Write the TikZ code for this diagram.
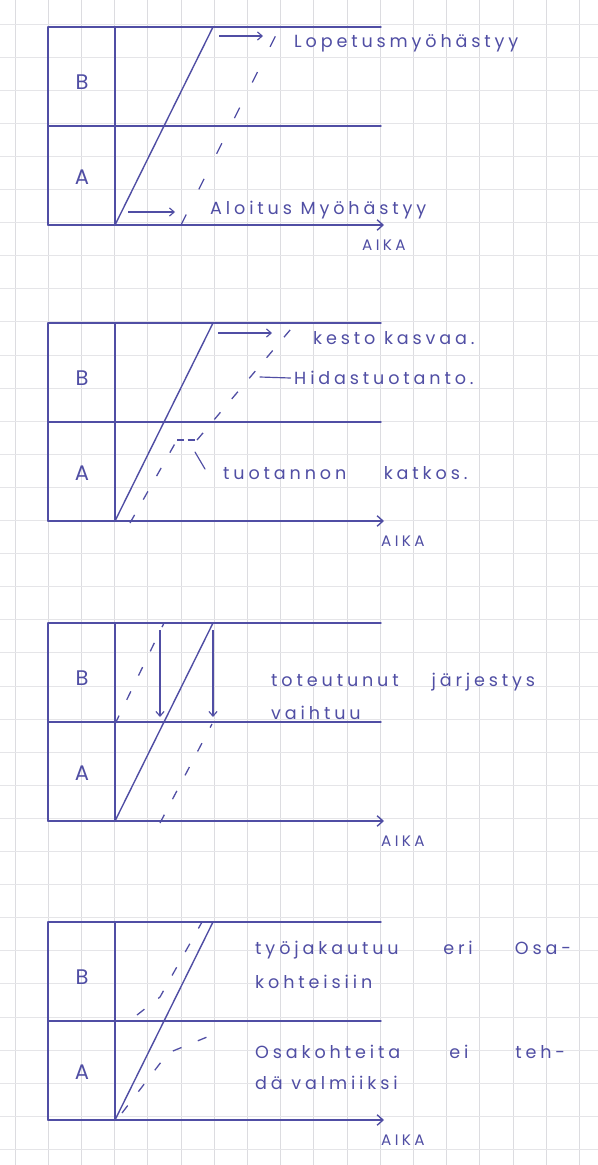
\documentclass[tikz,border=0pt]{standalone}
\usepackage{fontspec}
\newfontfamily\handfont[LetterSpace=22]{Poppins}
\usetikzlibrary{arrows.meta,positioning}
\definecolor{PenBlue}{RGB}{80,78,164}
\definecolor{GridGray}{RGB}{220,220,224}

\begin{document}
\begin{tikzpicture}[x=0.03cm, y=-0.03cm,
    pen/.style={PenBlue, line width=1.2pt, line cap=round},
    plan/.style={PenBlue, line width=1.1pt, dash pattern=on 8pt off 15pt},
    delay/.style={PenBlue, line width=1pt, -{Straight Barb[length=4pt,width=7pt]}},
    note/.style={PenBlue, font=\handfont\fontsize{15}{17}\selectfont, anchor=west, inner sep=0pt},
    zone/.style={PenBlue, font=\handfont\fontsize{18}{20}\selectfont, inner sep=0pt},
    axislabel/.style={PenBlue, font=\handfont\fontsize{13}{15}\selectfont, anchor=west, inner sep=0pt}]
    \useasboundingbox (0,0) rectangle (598,1165);
    \fill[white] (0,0) rectangle (598,1165);
    % ruled paper
    \foreach \gx in {0,...,17}
        \draw[GridGray, line width=0.8pt] (15+33.2*\gx,0) -- (15+33.2*\gx,1165);
    \foreach \gy in {0,...,34}
        \draw[GridGray!75, line width=0.8pt] (0,24+33.1*\gy) -- (598,24+33.1*\gy);
    % the four location-time frames
    \foreach \p/\off/\ax in {1/0/362,2/296/381,3/596/381,4/895/381} {
        \coordinate (tl\p) at (48,27+\off);
        \coordinate (tr\p) at (381,27+\off);
        \coordinate (ml\p) at (48,126+\off);
        \coordinate (mr\p) at (381,126+\off);
        \coordinate (bl\p) at (48,225+\off);
        \coordinate (br\p) at (384,225+\off);
        \coordinate (dt\p) at (115,27+\off);
        \coordinate (db\p) at (115,225+\off);
        \coordinate (st\p) at (213,27+\off);
        \draw[pen] (tl\p) -- (tr\p);
        \draw[pen] (ml\p) -- (mr\p);
        \draw[pen, -{Straight Barb[length=5pt,width=9pt]}] (bl\p) -- (br\p);
        \draw[pen] (tl\p) -- (bl\p);
        \draw[pen] (dt\p) -- (db\p);
        \draw[pen] (db\p) -- (st\p);
        \node[zone] (B\p) at (82,82+\off) {B};
        \node[zone] (A\p) at (82,177+\off) {A};
        \node[axislabel] (aika\p) at (\ax,245+\off) {AIKA};
    }
    % 1: start and finish delayed
    \coordinate (late1a) at (181,225);
    \coordinate (late1b) at (280,27);
    \draw[plan, dash pattern=on 10pt off 24pt] (late1a) -- (late1b);
    \coordinate (start1) at (128,212);
    \coordinate (start2) at (175,212);
    \coordinate (end1) at (219,36);
    \coordinate (end2) at (263,36);
    \draw[delay] (start1) -- (start2);
    \draw[delay] (end1) -- (end2);
    \node[note] (endlate) at (294,43) {Lopetusmyöhästyy};
    \node[note] (startlate) at (210,210) {Aloitus Myöhästyy};
    % 2: slower work and a break
    \coordinate (slow1) at (130,523);
    \coordinate (slow2) at (177,440);
    \coordinate (slow3) at (197,440);
    \coordinate (slow4) at (296,323);
    \draw[plan] (slow1) -- (slow2);
    \draw[plan, dash pattern=on 6pt off 3pt] (slow2) -- (slow3);
    \draw[plan] (slow3) -- (slow4);
    \coordinate (dur1) at (218,333);
    \coordinate (dur2) at (272,333);
    \draw[delay] (dur1) -- (dur2);
    \node[note] (longer) at (313,338) {kesto kasvaa.};
    \node[note] (slowtext) at (294,378) {Hidastuotanto.};
    \coordinate (tick1) at (260,377);
    \draw[pen, line width=1pt] (tick1) -- ([xshift=-3pt]slowtext.west);
    \node[note] (breaktext) at (223,473) {tuotannon\hspace{32pt}katkos.};
    \coordinate (tick2) at (195,452);
    \coordinate (tick3) at (205,469);
    \draw[pen, line width=1pt] (tick2) -- (tick3);
    % 3: order swaps
    \coordinate (swapB1) at (115,724);
    \coordinate (swapB2) at (164,623);
    \coordinate (swapA1) at (160,823);
    \coordinate (swapA2) at (212,724);
    \draw[plan] (swapB1) -- (swapB2);
    \draw[plan] (swapA1) -- (swapA2);
    \coordinate (down1) at (160,630);
    \coordinate (down2) at (160,717);
    \coordinate (down3) at (213,630);
    \coordinate (down4) at (213,717);
    \draw[delay] (down1) -- (down2);
    \draw[delay] (down3) -- (down4);
    \node[note] (order1) at (271,682) {toteutunut\hspace{28pt}järjestys};
    \node[note] (order2) at (271,713) {vaihtuu};
    % 4: work split over sub-sites
    \coordinate (splitA1) at (122,1113);
    \coordinate (splitA2) at (168,1053);
    \coordinate (splitA3) at (212,1035);
    \draw[plan] (splitA1) -- (splitA2) -- (splitA3);
    \coordinate (splitB1) at (137,1015);
    \coordinate (splitB2) at (160,997);
    \coordinate (splitB3) at (202,922);
    \draw[plan] (splitB1) -- (splitB2) -- (splitB3);
    \node[note] (split1) at (255,950) {työjakautuu\hspace{38pt}eri\hspace{36pt}Osa-};
    \node[note] (split2) at (255,982) {kohteisiin};
    \node[note] (part1) at (255,1052) {Osakohteita\hspace{42pt}ei\hspace{40pt}teh-};
    \node[note] (part2) at (255,1083) {dä valmiiksi};
\end{tikzpicture}
\end{document}
